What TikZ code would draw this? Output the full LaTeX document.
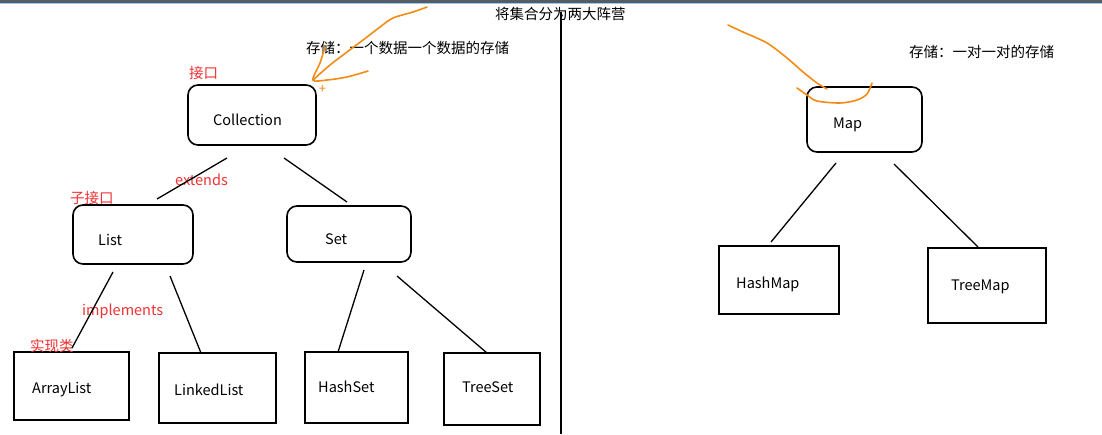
\documentclass[tikz,border=0pt]{standalone}
\usepackage{fontspec}
\setmainfont{Noto Sans CJK SC}
\usetikzlibrary{calc}
\definecolor{redlab}{RGB}{238,50,50}
\definecolor{orng}{RGB}{242,140,20}
\definecolor{barc}{RGB}{88,92,98}
\definecolor{barline}{RGB}{150,205,235}
\begin{document}
\begin{tikzpicture}[x=1pt,y=-1pt,
  every node/.style={font=\fontsize{14.5}{17}\selectfont},
  rbox/.style={draw, line width=1.6pt, rounded corners=10pt, inner sep=0pt, outer sep=0pt},
  sbox/.style={draw, line width=1.6pt, inner sep=0pt, outer sep=0pt},
  lbl/.style={anchor=west, inner sep=0pt, text height=10.6pt, text depth=0pt},
  redlbl/.style={lbl, text=redlab},
  conn/.style={line width=1.3pt},
  pen/.style={orng, line width=1.6pt, line cap=round, line join=round}]
\fill[white] (0,0) rectangle (1102,434);
\useasboundingbox (0,0) rectangle (1102,434);
\fill[barc] (0,0) rectangle (1102,3);
\fill[barline] (0,3) rectangle (1102,4);

% boxes
\node[rbox, minimum width=128pt, minimum height=60pt] (coll) at (252,115) {};
\node[rbox, minimum width=120pt, minimum height=59pt] (list) at (133,234.5) {};
\node[rbox, minimum width=124pt, minimum height=56pt] (set) at (349,234) {};
\node[sbox, minimum width=115pt, minimum height=68pt] (alist) at (71.5,386) {};
\node[sbox, minimum width=117pt, minimum height=70pt] (llist) at (217.5,388) {};
\node[sbox, minimum width=103pt, minimum height=71pt] (hset) at (356.5,387.5) {};
\node[sbox, minimum width=96pt, minimum height=72pt] (tset) at (492,389) {};
\node[rbox, minimum width=115pt, minimum height=65pt] (map) at (864.5,119.5) {};
\node[sbox, minimum width=120pt, minimum height=68pt] (hmap) at (779,280) {};
\node[sbox, minimum width=118pt, minimum height=75pt] (tmap) at (987,285.5) {};

% box texts
\node[lbl] (lbcoll) at (213,120) {Collection};
\node[lbl] (lblist) at (98,240) {List};
\node[lbl] (lbset) at (325,239) {Set};
\node[lbl] (lbalist) at (32,388) {ArrayList};
\node[lbl] (lbllist) at (174,390) {LinkedList};
\node[lbl] (lbhset) at (318,387) {HashSet};
\node[lbl] (lbtset) at (462,387) {TreeSet};
\node[lbl] (lbmap) at (833,123) {Map};
\node[lbl] (lbhmap) at (736,283) {HashMap};
\node[lbl] (lbtmap) at (951,285) {TreeMap};

% annotations
\node[lbl] (title) at (495,14) {将集合分为两大阵营};
\node[lbl] (store1) at (306,48) {存储：一个数据一个数据的存储};
\node[lbl] (store2) at (909,52) {存储：一对一对的存储};
\node[redlbl] (iface) at (189,73) {接口};
\node[redlbl] (ext) at (175,180) {extends};
\node[redlbl] (subiface) at (70,198) {子接口};
\node[redlbl] (impl) at (82,310) {implements};
\node[redlbl] (implcls) at (30,346) {实现类};
\node[inner sep=0pt, text=orng, font=\fontsize{13}{14}\selectfont] (plus) at (322.5,89.5) {+};

% divider
\coordinate (dtop) at (561,12);
\coordinate (dbot) at (561,434);
\draw[line width=2pt] (dtop) -- (dbot);

% connectors
\draw[conn] ($(coll.south)+(-25,13)$) -- ($(list.north)+(24,-6)$);
\draw[conn] ($(coll.south)+(32,13)$) -- ($(set.north)+(-2,-4)$);
\draw[conn] ($(list.south)+(-20,8)$) -- ($(alist.north)+(0.5,-4)$);
\draw[conn] ($(list.south)+(37,12)$) -- ($(llist.north)+(-16.5,0)$);
\draw[conn] ($(set.south)+(15,8)$) -- ($(hset.north)+(-18.5,0)$);
\draw[conn] ($(set.south)+(48,14)$) -- ($(tset.north)+(-5,0)$);
\draw[conn] ($(map.south)+(-28.5,11)$) -- ($(hmap.north)+(-8,-4)$);
\draw[conn] ($(map.south)+(29.5,12)$) -- ($(tmap.north)+(-9,-1)$);

% orange pen strokes
\draw[pen] plot[smooth] coordinates {(427,7) (413,12) (393,18) (380,27) (367,37) (347,52) (330,65) (313,80)};
\draw[pen] plot[smooth] coordinates {(325,47) (320,63) (313,80) (327,80) (347,77) (368,71)};
\draw[pen] plot[smooth] coordinates {(728,25) (743,32) (767,43) (787,58) (803,72) (817,83) (827,89)};
\draw[pen] plot[smooth] coordinates {(797,88) (807,95) (817,101) (840,103) (857,100) (867,94) (872,83)};
\end{tikzpicture}
\end{document}
